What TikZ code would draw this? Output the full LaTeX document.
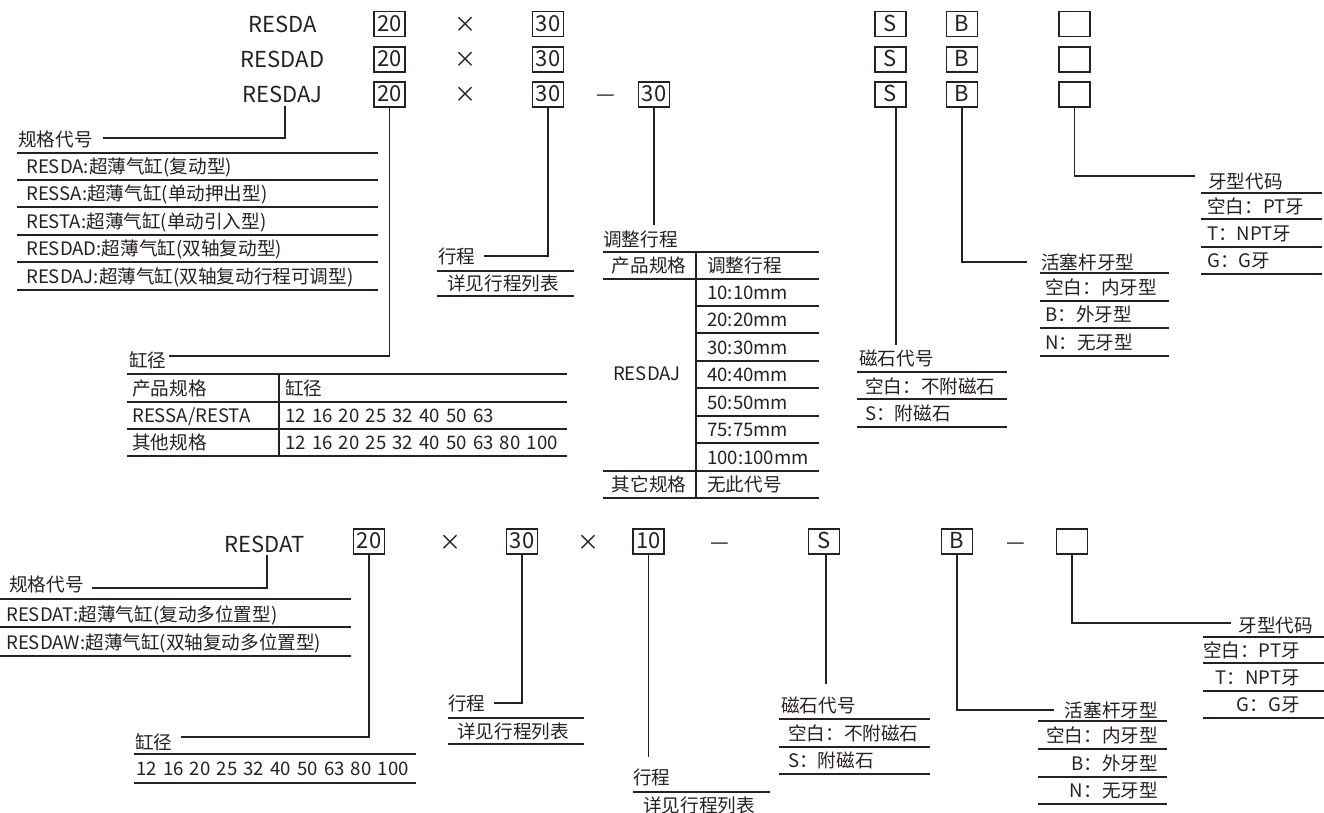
\documentclass[tikz,border=0pt]{standalone}
\usepackage{fontspec}
\setmainfont{Noto Sans CJK SC}
\definecolor{ink}{RGB}{38,32,30}
\tikzset{
  every node/.style={text=ink, inner sep=0pt},
  lbl/.style={font=\fontsize{18.6}{18.6}\selectfont, text height=16.4pt, text depth=2.2pt},
  nums/.style={lbl, execute at begin node={\spaceskip=6.2pt\relax}},
  hdr/.style={font=\fontsize{22}{22}\selectfont, text height=19.4pt, text depth=2.6pt},
  codebox/.style={draw=ink, line width=1.2pt, minimum width=31pt, minimum height=25pt,
    font=\fontsize{22}{22}\selectfont, text height=14.8pt, text depth=0pt},
  sep/.style={font=\fontsize{21}{21}\selectfont, text height=0pt, text depth=0pt},
  conn/.style={draw=ink, line width=1.2pt},
  rule/.style={draw=ink, line width=1.2pt}
}
\begin{document}
\begin{tikzpicture}[x=1pt,y=-1pt]
\useasboundingbox (0,0) rectangle (1324,812);

% ---------------- top header rows ----------------
\node[hdr] (ha) at (282.5,24) {RESDA};
\node[hdr] (hd) at (282.5,59.5) {RESDAD};
\node[hdr] (hj) at (282.5,94.5) {RESDAJ};
\node[codebox] (a20) at (389.5,24) {20};
\node[codebox] (d20) at (389.5,59.5) {20};
\node[codebox] (j20) at (389.5,94.5) {20};
\node[hdr] (ax) at (465,24) {×};
\node[hdr] (dx) at (465,59.5) {×};
\node[hdr] (jx) at (465,94.5) {×};
\node[codebox] (a30) at (548,24) {30};
\node[codebox] (d30) at (548,59.5) {30};
\node[codebox] (j30) at (548,94.5) {30};
\node[sep] (jdash) at (606,101) {—};
\node[codebox] (j30b) at (654,94.5) {30};
\node[codebox] (aS) at (890.5,24) {S};
\node[codebox] (dS) at (890.5,59.5) {S};
\node[codebox] (jS) at (890.5,94.5) {S};
\node[codebox] (aB) at (962,24) {B};
\node[codebox] (dB) at (962,59.5) {B};
\node[codebox] (jB) at (962,94.5) {B};
\node[codebox] (aE) at (1074.5,24) {};
\node[codebox] (dE) at (1074.5,59.5) {};
\node[codebox] (jE) at (1074.5,94.5) {};

% spec code list (top)
\node[lbl,anchor=west] (spec1) at (18,139) {规格代号};
\draw[conn] ([xshift=2.5pt]hj.south) |- ([xshift=10.6pt,yshift=1pt]spec1.east);
\foreach \y in {153,180,207,235,262,290} \draw[rule] (17,\y) -- (378,\y);
\node[lbl,anchor=west] (s1a) at (26,166.5) {RESDA:超薄气缸(复动型)};
\node[lbl,anchor=west] (s1b) at (26,193.5) {RESSA:超薄气缸(单动押出型)};
\node[lbl,anchor=west] (s1c) at (26,221) {RESTA:超薄气缸(单动引入型)};
\node[lbl,anchor=west] (s1d) at (26,248.5) {RESDAD:超薄气缸(双轴复动型)};
\node[lbl,anchor=west] (s1e) at (26,276) {RESDAJ:超薄气缸(双轴复动行程可调型)};

% bore table (top)
\node[lbl,anchor=west] (bore1) at (129,360) {缸径};
\draw[conn] (j20.south) |- ([xshift=2pt,yshift=4pt]bore1.east);
\foreach \y in {374,402,429,456} \draw[rule] (127,\y) -- (567,\y);
\draw[rule] (279,374) -- (279,456);
\node[lbl,anchor=west] (bt1) at (132,388) {产品规格};
\node[lbl,anchor=west] (bt2) at (285,388) {缸径};
\node[lbl,anchor=west] (bt3) at (132,415.5) {RESSA/RESTA};
\node[nums,anchor=west] (bt4) at (285,415.5) {12 16 20 25 32 40 50 63};
\node[lbl,anchor=west] (bt5) at (132,442.5) {其他规格};
\node[nums,anchor=west] (bt6) at (285,442.5) {12 16 20 25 32 40 50 63 80 100};

% stroke (top)
\node[lbl,anchor=west] (stroke1) at (438,256) {行程};
\draw[conn] (j30.south) |- ([xshift=8pt]stroke1.east);
\draw[rule] (437,271) -- (574,271);
\draw[rule] (437,296) -- (574,296);
\node[lbl,anchor=west] (st1) at (447,283.5) {详见行程列表};

% adjustable stroke table
\node[lbl,anchor=west] (adj) at (603,239) {调整行程};
\coordinate (adjtop) at ([yshift=5pt]adj.north);
\draw[conn] (j30b.south) -- (j30b.south |- adjtop);
\foreach \y in {252,279,471,498} \draw[rule] (603,\y) -- (819,\y);
\foreach \y in {306,333,361,388,416,443} \draw[rule] (696,\y) -- (819,\y);
\draw[rule] (696,252) -- (696,498);
\node[lbl] (at1) at (649,265.5) {产品规格};
\node[lbl,anchor=west] (at2) at (707,265.5) {调整行程};
\node[lbl,anchor=west] (m1) at (707,292.5) {10:10mm};
\node[lbl,anchor=west] (m2) at (707,319.5) {20:20mm};
\node[lbl,anchor=west] (m3) at (707,347) {30:30mm};
\node[lbl,anchor=west] (m4) at (707,374.5) {40:40mm};
\node[lbl,anchor=west] (m5) at (707,402) {50:50mm};
\node[lbl,anchor=west] (m6) at (707,429.5) {75:75mm};
\node[lbl,anchor=west] (m7) at (707,457) {100:100mm};
\node[lbl] (aj) at (647,373) {RESDAJ};
\node[lbl] (at3) at (649,484.5) {其它规格};
\node[lbl,anchor=west] (at4) at (707,484.5) {无此代号};

% magnet (top)
\node[lbl,anchor=west] (mag1) at (859,358) {磁石代号};
\coordinate (mag1top) at ([yshift=4pt]mag1.north);
\draw[conn] ([xshift=5.5pt]jS.south) -- ([xshift=5.5pt]jS.south |- mag1top);
\foreach \y in {372,399,427} \draw[rule] (857,\y) -- (1007,\y);
\node[lbl,anchor=west] (mg1) at (865,386) {空白：不附磁石};
\node[lbl,anchor=west] (mg2) at (865,413) {S：附磁石};

% rod thread (top)
\node[lbl,anchor=west] (rod1) at (1041,262) {活塞杆牙型};
\draw[conn] (jB.south) |- ([xshift=-14pt]rod1.west);
\foreach \y in {273,301,328,356} \draw[rule] (1040,\y) -- (1169,\y);
\node[lbl,anchor=west] (rd1) at (1045,287) {空白：内牙型};
\node[lbl,anchor=west] (rd2) at (1045,314.5) {B：外牙型};
\node[lbl,anchor=west] (rd3) at (1045,342) {N：无牙型};

% thread code (top)
\node[lbl,anchor=west] (thr1) at (1208,181) {牙型代码};
\draw[conn] (jE.south) |- ([xshift=-13pt,yshift=5pt]thr1.west);
\foreach \y in {193,219,247,274} \draw[rule] (1201,\y) -- (1322,\y);
\node[lbl,anchor=west] (th1) at (1207,206) {空白：PT牙};
\node[lbl,anchor=west] (th2) at (1207,233) {T：NPT牙};
\node[lbl,anchor=west] (th3) at (1207,260) {G：G牙};

% ---------------- bottom row ----------------
\node[hdr] (ht) at (265,544) {RESDAT};
\node[codebox] (t20) at (369,541.5) {20};
\node[hdr] (tx1) at (450,542) {×};
\node[codebox] (t30) at (522,541.5) {30};
\node[hdr] (tx2) at (588,542) {×};
\node[codebox] (t10) at (648.5,541.5) {10};
\node[sep] (tdash1) at (720,549) {—};
\node[codebox] (tS) at (824,541.5) {S};
\node[codebox] (tB) at (957,541.5) {B};
\node[sep] (tdash2) at (1016,549) {—};
\node[codebox] (tE) at (1072,541.5) {};

% spec code list (bottom)
\node[lbl,anchor=west] (spec2) at (9,584) {规格代号};
\draw[conn] ([xshift=2pt]ht.south) |- ([xshift=8.6pt,yshift=-4pt]spec2.east);
\foreach \y in {599,627,656} \draw[rule] (0,\y) -- (351,\y);
\node[lbl,anchor=west] (s2a) at (6,614) {RESDAT:超薄气缸(复动多位置型)};
\node[lbl,anchor=west] (s2b) at (6,642) {RESDAW:超薄气缸(双轴复动多位置型)};

% bore (bottom)
\node[lbl,anchor=west] (bore2) at (135,742) {缸径};
\draw[conn] (t20.south) |- ([xshift=8pt,yshift=5pt]bore2.east);
\draw[rule] (134,754) -- (416,754);
\draw[rule] (134,783) -- (416,783);
\node[nums,anchor=west] (bd) at (136,768.5) {12 16 20 25 32 40 50 63 80 100};

% stroke (bottom, first)
\node[lbl,anchor=west] (stroke2) at (448,703) {行程};
\draw[conn] (t30.south) |- ([xshift=8pt]stroke2.east);
\draw[rule] (448,718) -- (584,718);
\draw[rule] (448,744) -- (584,744);
\node[lbl,anchor=west] (st2) at (457,731) {详见行程列表};

% stroke (bottom, second)
\node[lbl,anchor=west] (stroke3) at (633,777) {行程};
\coordinate (s3top) at ([yshift=11pt]stroke3.north);
\draw[conn] (t10.south) -- (t10.south |- s3top);
\draw[rule] (633,792) -- (770,792);
\node[lbl,anchor=west] (st3) at (643,805) {详见行程列表};

% magnet (bottom)
\node[lbl,anchor=west] (mag2) at (781,705) {磁石代号};
\coordinate (mag2top) at ([yshift=12pt]mag2.north);
\draw[conn] ([xshift=2pt]tS.south) -- ([xshift=2pt]tS.south |- mag2top);
\foreach \y in {719,747,774} \draw[rule] (779,\y) -- (930,\y);
\node[lbl,anchor=west] (mh1) at (788,733) {空白：不附磁石};
\node[lbl,anchor=west] (mh2) at (788,760.5) {S：附磁石};

% rod thread (bottom)
\node[lbl,anchor=east] (rod2) at (1158,710) {活塞杆牙型};
\draw[conn] (tB.south) |- ([xshift=-11pt]rod2.west);
\foreach \y in {721,749,777,804} \draw[rule] (1038,\y) -- (1167,\y);
\node[lbl,anchor=east] (re1) at (1158,735) {空白：内牙型};
\node[lbl,anchor=east] (re2) at (1158,763) {B：外牙型};
\node[lbl,anchor=east] (re3) at (1158,790.5) {N：无牙型};

% thread code (bottom)
\node[lbl,anchor=east] (thr2) at (1313,625) {牙型代码};
\draw[conn] (tE.south) |- ([xshift=-7.6pt,yshift=2pt]thr2.west);
\foreach \y in {637,663,691,718} \draw[rule] (1203,\y) -- (1324,\y);
\node[lbl,anchor=east] (tk1) at (1300,650) {空白：PT牙};
\node[lbl,anchor=east] (tk2) at (1300,677) {T：NPT牙};
\node[lbl,anchor=east] (tk3) at (1300,704) {G：G牙};
\end{tikzpicture}
\end{document}
